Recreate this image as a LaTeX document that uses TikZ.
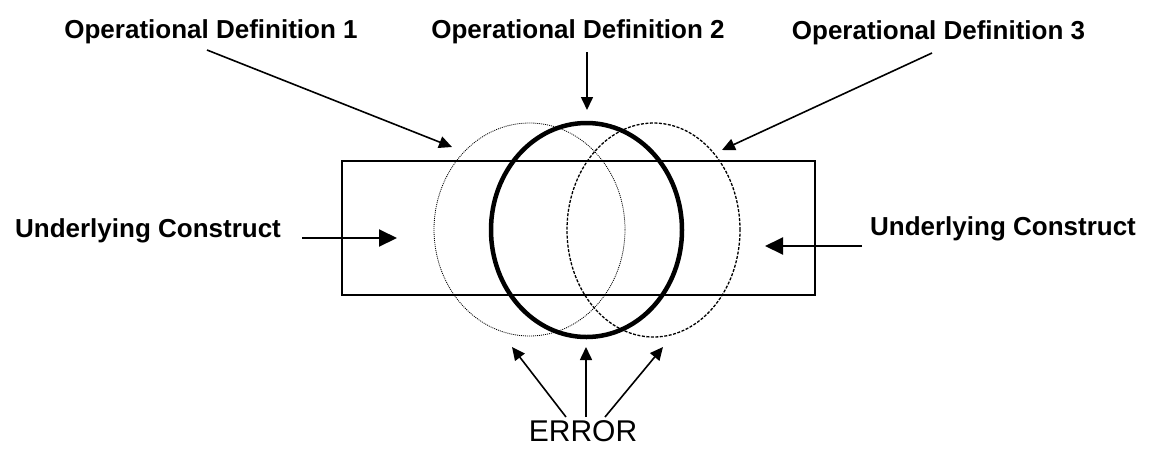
\documentclass[tikz,border=0pt]{standalone}
\usepackage{fontspec}
\setmainfont{Liberation Sans}
\usetikzlibrary{arrows.meta,shapes.geometric}

\tikzset{
  label/.style={font=\fontsize{26}{30}\selectfont\bfseries, inner sep=0pt, anchor=base},
  errlabel/.style={font=\fontsize{30}{32}\selectfont, inner sep=0pt, anchor=base},
  pointer/.style={line width=1.6pt, -{Triangle[length=13pt,width=12pt]}},
  bigpointer/.style={line width=2pt, -{Triangle[length=18pt,width=17pt]}},
  construct/.style={draw, line width=1.2pt, inner sep=0pt},
  defone/.style={ellipse, draw, inner sep=0pt, line width=0.8pt, dash pattern=on 1pt off 1pt},
  deftwo/.style={ellipse, draw, inner sep=0pt, line width=4.5pt},
  defthree/.style={ellipse, draw, inner sep=0pt, line width=1.3pt, dash pattern=on 3pt off 1.5pt}
}

\begin{document}
\begin{tikzpicture}[x=1pt,y=-1pt]
\useasboundingbox (0,0) rectangle (1156,448);

% underlying construct
\node[construct, minimum width=473pt, minimum height=134pt] (uc) at (578.5,228) {};

% three operational definitions
\node[defone, minimum width=191pt, minimum height=213pt] (od1) at (529.5,229.5) {};
\node[defthree, minimum width=173pt, minimum height=214pt] (od3) at (653.5,230) {};
\node[deftwo, minimum width=191pt, minimum height=214pt] (od2) at (586.5,230) {};

% labels
\node[label] (t1) at (211,38) {Operational Definition 1};
\node[label] (t2) at (578,38) {Operational Definition 2};
\node[label] (t3) at (938.5,39) {Operational Definition 3};
\node[label] (ul) at (148,237) {Underlying Construct};
\node[label] (ur) at (1003,235) {Underlying Construct};
\node[errlabel] (err) at (583,441) {ERROR};

% arrow end points
\coordinate (a1s) at (207,50);   \coordinate (a1e) at (452,147);
\coordinate (a2s) at (587,52);   \coordinate (a2e) at (587,110);
\coordinate (a3s) at (932,53);   \coordinate (a3e) at (722,150);
\coordinate (lls) at (302,238);  \coordinate (lle) at (397,238);
\coordinate (rrs) at (862,246);  \coordinate (rre) at (765,246);
\coordinate (e1s) at (566,417);  \coordinate (e1e) at (512,347);
\coordinate (e2s) at (586,417);  \coordinate (e2e) at (586,347);
\coordinate (e3s) at (605,417);  \coordinate (e3e) at (663,347);

% arrows
\draw[pointer] (a1s) -- (a1e);
\draw[pointer] (a2s) -- (a2e);
\draw[pointer] (a3s) -- (a3e);
\draw[bigpointer] (lls) -- (lle);
\draw[bigpointer] (rrs) -- (rre);
\draw[pointer] (e1s) -- (e1e);
\draw[pointer] (e2s) -- (e2e);
\draw[pointer] (e3s) -- (e3e);
\end{tikzpicture}
\end{document}
